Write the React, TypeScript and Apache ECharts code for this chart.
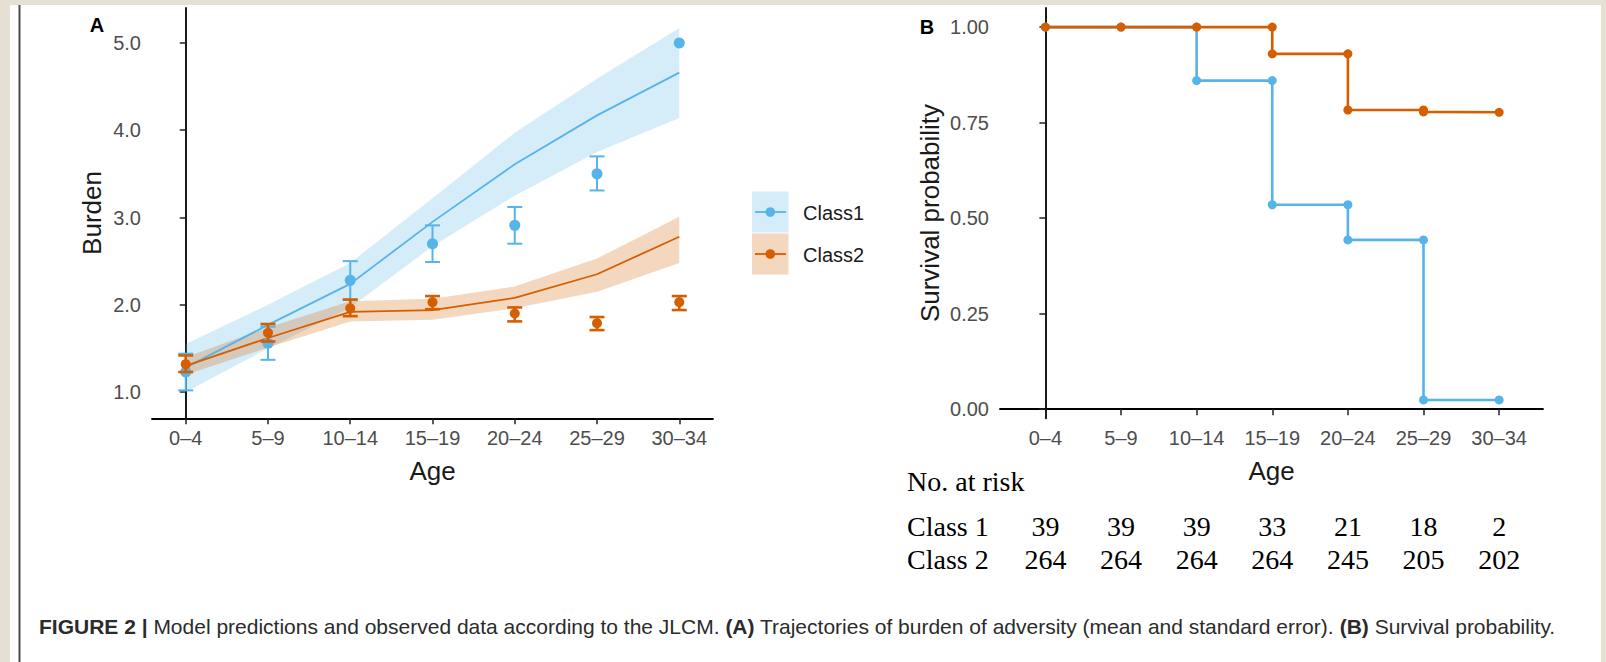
import React, { useEffect, useRef } from "react";
import * as echarts from "echarts";

const ageGroups = ["0–4", "5–9", "10–14", "15–19", "20–24", "25–29", "30–34"];
const burdenTicks = [1, 2, 3, 4, 5];
const survivalTicks = [0, 0.25, 0.5, 0.75, 1];

// Panel A: model predictions (line + ribbon)
const class1Pred = [1.28, 1.77, 2.24, 2.95, 3.61, 4.17, 4.66];
const class1PredLo = [1.0, 1.5, 1.97, 2.67, 3.25, 3.75, 4.14];
const class1PredHi = [1.55, 2.0, 2.48, 3.22, 3.97, 4.59, 5.17];
const class2Pred = [1.3, 1.62, 1.92, 1.94, 2.08, 2.35, 2.78];
const class2PredLo = [1.2, 1.51, 1.81, 1.83, 1.96, 2.15, 2.48];
const class2PredHi = [1.4, 1.74, 2.04, 2.07, 2.21, 2.53, 3.01];

// Panel A: observed means with standard error
const class1Obs = [1.23, 1.56, 2.28, 2.7, 2.91, 3.5, 5.0];
const class1ObsLo = [1.02, 1.37, 2.06, 2.49, 2.7, 3.31, null];
const class1ObsHi = [1.44, 1.75, 2.5, 2.91, 3.12, 3.7, null];
const class2Obs = [1.32, 1.68, 1.96, 2.03, 1.9, 1.79, 2.03];
const class2ObsLo = [1.23, 1.58, 1.87, 1.95, 1.81, 1.71, 1.94];
const class2ObsHi = [1.42, 1.78, 2.06, 2.1, 1.97, 1.86, 2.1];

// Panel B: survival steps (age index, probability)
const class1KmX = [0, 1, 2, 2, 3, 3, 4, 4, 5, 5, 6];
const class1KmY = [1, 1, 1, 0.86, 0.86, 0.535, 0.535, 0.443, 0.443, 0.024, 0.024];
const class2KmX = [0, 1, 2, 3, 3, 4, 4, 5, 5, 6];
const class2KmY = [1, 1, 1, 1, 0.93, 0.93, 0.783, 0.783, 0.778, 0.777];

// Number at risk
const riskClass1 = [39, 39, 39, 33, 21, 18, 2];
const riskClass2 = [264, 264, 264, 264, 245, 205, 202];

const BLUE = "#56B4E9";
const ORANGE = "#D55E00";
const BLUE_FILL = "rgba(86,180,233,0.25)";
const ORANGE_FILL = "rgba(213,94,0,0.25)";
const SANS = '"Liberation Sans", Arial, Helvetica, sans-serif';
const SERIF = '"Liberation Serif", "Times New Roman", serif';
const TICK_COLOR = "#4d4d4d";
const TITLE_COLOR = "#1a1a1a";

const ribbon = (lo: number[], hi: number[], fill: string, axis: number) => ({
  type: "custom",
  xAxisIndex: axis,
  yAxisIndex: axis,
  z: 1,
  silent: true,
  data: [[0, lo[0]]],
  renderItem: (_p: any, api: any) => {
    const pts: number[][] = [];
    for (let i = 0; i < hi.length; i++) pts.push(api.coord([i, hi[i]]));
    for (let i = lo.length - 1; i >= 0; i--) pts.push(api.coord([i, lo[i]]));
    return { type: "polygon", shape: { points: pts }, style: { fill } };
  },
});

const errorBars = (lo: (number | null)[], hi: (number | null)[], color: string, lw: number, z: number) => ({
  type: "custom",
  xAxisIndex: 0,
  yAxisIndex: 0,
  z,
  silent: true,
  encode: { x: 0, y: [1, 2] },
  data: lo
    .map((l, i) => (l == null || hi[i] == null ? null : [i, l, hi[i]]))
    .filter((d) => d != null),
  renderItem: (_p: any, api: any) => {
    const x = api.value(0);
    const a = api.coord([x, api.value(1)]);
    const b = api.coord([x, api.value(2)]);
    const w = 7.5;
    const st = { stroke: color, lineWidth: lw };
    return {
      type: "group",
      children: [
        { type: "line", shape: { x1: a[0], y1: a[1], x2: b[0], y2: b[1] }, style: st },
        { type: "line", shape: { x1: a[0] - w, y1: a[1], x2: a[0] + w, y2: a[1] }, style: st },
        { type: "line", shape: { x1: b[0] - w, y1: b[1], x2: b[0] + w, y2: b[1] }, style: st },
      ],
    };
  },
});

const axisCommon = {
  axisLine: { lineStyle: { color: "#000", width: 1.8 } },
  axisTick: { length: 6, lineStyle: { color: "#222", width: 1.5 } },
  splitLine: { show: false },
};

export default function App() {
  const ref = useRef<HTMLDivElement>(null);
  useEffect(() => {
    document.body.style.margin = "0";
    const chart = echarts.init(ref.current!, null, { renderer: "svg" });

    const xAxisFor = (grid: number, min: number, max: number) => ({
      type: "value",
      gridIndex: grid,
      min,
      max,
      ...axisCommon,
      axisTick: { ...axisCommon.axisTick, customValues: ageGroups.map((_, i) => i) },
      axisLabel: {
        customValues: ageGroups.map((_, i) => i),
        formatter: (v: number) => ageGroups[Math.round(v)],
        color: TICK_COLOR,
        fontSize: 20,
        fontFamily: SANS,
        margin: 10,
      },
    });

    const legendItem = (y: number, fill: string, color: string, label: string) => [
      { type: "rect", shape: { x: 752, y, width: 36.5, height: 41 }, style: { fill } },
      { type: "line", shape: { x1: 755, y1: y + 20.5, x2: 786, y2: y + 20.5 }, style: { stroke: color, lineWidth: 1.8 } },
      { type: "circle", shape: { cx: 770.3, cy: y + 20.5, r: 4.8 }, style: { fill: color } },
      {
        type: "text",
        x: 803,
        y: y + 21,
        style: { text: label, fontSize: 20, fontFamily: SANS, fill: TITLE_COLOR, verticalAlign: "middle" },
      },
    ];

    const option: any = {
      animation: false,
      backgroundColor: "#e6dfd4",
      grid: [
        { left: 152, top: 8, width: 561, height: 410.3 },
        { left: 1000, top: 8, width: 543, height: 410.3 },
      ],
      xAxis: [xAxisFor(0, -0.41, 6.41), xAxisFor(1, -0.6, 6.58)],
      yAxis: [
        {
          type: "value",
          gridIndex: 0,
          min: 0.7,
          max: 5.4,
          ...axisCommon,
          axisTick: { ...axisCommon.axisTick, customValues: burdenTicks },
          axisLabel: {
            customValues: burdenTicks,
            formatter: (v: number) => v.toFixed(1),
            color: TICK_COLOR,
            fontSize: 20,
            fontFamily: SANS,
            margin: 11,
          },
        },
        {
          type: "value",
          gridIndex: 1,
          min: -0.024,
          max: 1.05,
          ...axisCommon,
          axisTick: { ...axisCommon.axisTick, customValues: survivalTicks },
          axisLabel: {
            customValues: survivalTicks,
            formatter: (v: number) => v.toFixed(2),
            color: TICK_COLOR,
            fontSize: 20,
            fontFamily: SANS,
            margin: 11,
          },
        },
      ],
      series: [
        ribbon(class1PredLo, class1PredHi, BLUE_FILL, 0),
        ribbon(class2PredLo, class2PredHi, ORANGE_FILL, 0),
        {
          type: "line",
          xAxisIndex: 0,
          yAxisIndex: 0,
          z: 2,
          showSymbol: false,
          silent: true,
          data: class1Pred.map((v, i) => [i, v]),
          lineStyle: { color: BLUE, width: 1.8 },
        },
        {
          type: "line",
          xAxisIndex: 0,
          yAxisIndex: 0,
          z: 2,
          showSymbol: false,
          silent: true,
          data: class2Pred.map((v, i) => [i, v]),
          lineStyle: { color: ORANGE, width: 1.8 },
        },
        errorBars(class1ObsLo, class1ObsHi, BLUE, 2, 3),
        {
          type: "scatter",
          xAxisIndex: 0,
          yAxisIndex: 0,
          z: 3,
          symbolSize: 11,
          silent: true,
          itemStyle: { color: BLUE, opacity: 1 },
          data: class1Obs.map((v, i) => [i, v]),
        },
        errorBars(class2ObsLo, class2ObsHi, ORANGE, 2.6, 4),
        {
          type: "scatter",
          xAxisIndex: 0,
          yAxisIndex: 0,
          z: 4,
          symbolSize: 10,
          silent: true,
          itemStyle: { color: ORANGE, opacity: 1 },
          data: class2Obs.map((v, i) => [i, v]),
        },
        {
          type: "line",
          xAxisIndex: 1,
          yAxisIndex: 1,
          z: 2,
          silent: true,
          symbol: "circle",
          symbolSize: 9,
          showSymbol: true,
          data: class1KmX.map((x, i) => [x, class1KmY[i]]),
          lineStyle: { color: BLUE, width: 2.6 },
          itemStyle: { color: BLUE },
        },
        {
          type: "line",
          xAxisIndex: 1,
          yAxisIndex: 1,
          z: 3,
          silent: true,
          symbol: "circle",
          symbolSize: 9,
          showSymbol: true,
          data: class2KmX.map((x, i) => [x, class2KmY[i]]),
          lineStyle: { color: ORANGE, width: 2.6 },
          itemStyle: { color: ORANGE },
        },
      ],
    };

    chart.setOption(option);

    const riskTexts: any[] = [];
    ageGroups.forEach((_, i) => {
      const px = chart.convertToPixel({ xAxisIndex: 1 }, i) as number;
      riskTexts.push({
        type: "text",
        x: px,
        y: 526,
        style: { text: String(riskClass1[i]), fontSize: 28, fontFamily: SERIF, fill: "#000", align: "center", verticalAlign: "middle" },
      });
      riskTexts.push({
        type: "text",
        x: px,
        y: 559,
        style: { text: String(riskClass2[i]), fontSize: 28, fontFamily: SERIF, fill: "#000", align: "center", verticalAlign: "middle" },
      });
    });

    const graphic: any[] = [
      { type: "rect", z: -10, shape: { x: 10, y: 5, width: 1591, height: 657 }, style: { fill: "#ffffff" } },
      { type: "line", z: -9, shape: { x1: 19.5, y1: 5, x2: 19.5, y2: 662 }, style: { stroke: "#4a4a4a", lineWidth: 2 } },
      { type: "text", x: 97, y: 25, style: { text: "A", fontSize: 20, fontWeight: "bold", fontFamily: SANS, fill: "#000", align: "center", verticalAlign: "middle" } },
      { type: "text", x: 927, y: 27, style: { text: "B", fontSize: 20, fontWeight: "bold", fontFamily: SANS, fill: "#000", align: "center", verticalAlign: "middle" } },
      { type: "text", x: 92, y: 213, rotation: Math.PI / 2, style: { text: "Burden", fontSize: 26, fontFamily: SANS, fill: TITLE_COLOR, align: "center", verticalAlign: "middle" } },
      { type: "text", x: 432.5, y: 471, style: { text: "Age", fontSize: 26, fontFamily: SANS, fill: TITLE_COLOR, align: "center", verticalAlign: "middle" } },
      { type: "text", x: 930, y: 213, rotation: Math.PI / 2, style: { text: "Survival probability", fontSize: 26, fontFamily: SANS, fill: TITLE_COLOR, align: "center", verticalAlign: "middle" } },
      { type: "text", x: 1271.5, y: 471, style: { text: "Age", fontSize: 26, fontFamily: SANS, fill: TITLE_COLOR, align: "center", verticalAlign: "middle" } },
      ...legendItem(191.5, BLUE_FILL, BLUE, "Class1"),
      ...legendItem(233.5, ORANGE_FILL, ORANGE, "Class2"),
      { type: "text", x: 907, y: 481, style: { text: "No. at risk", fontSize: 28, fontFamily: SERIF, fill: "#000", verticalAlign: "middle" } },
      { type: "text", x: 907, y: 526, style: { text: "Class 1", fontSize: 28, fontFamily: SERIF, fill: "#000", verticalAlign: "middle" } },
      { type: "text", x: 907, y: 559, style: { text: "Class 2", fontSize: 28, fontFamily: SERIF, fill: "#000", verticalAlign: "middle" } },
      ...riskTexts,
      {
        type: "text",
        x: 39,
        y: 626,
        style: {
          text:
            "{b|FIGURE 2 |} Model predictions and observed data according to the JLCM. {b|(A)} Trajectories of burden of adversity (mean and standard error). {b|(B)} Survival probability.",
          fontSize: 21,
          fontFamily: SANS,
          fill: "#2b2b2b",
          verticalAlign: "middle",
          rich: { b: { fontSize: 21, fontFamily: SANS, fontWeight: "bold", fill: "#2b2b2b" } },
        },
      },
    ];
    chart.setOption({ graphic });

    return () => chart.dispose();
  }, []);
  return <div ref={ref} style={{ position: "absolute", left: 0, top: 0, width: 1606, height: 662 }} />;
}
